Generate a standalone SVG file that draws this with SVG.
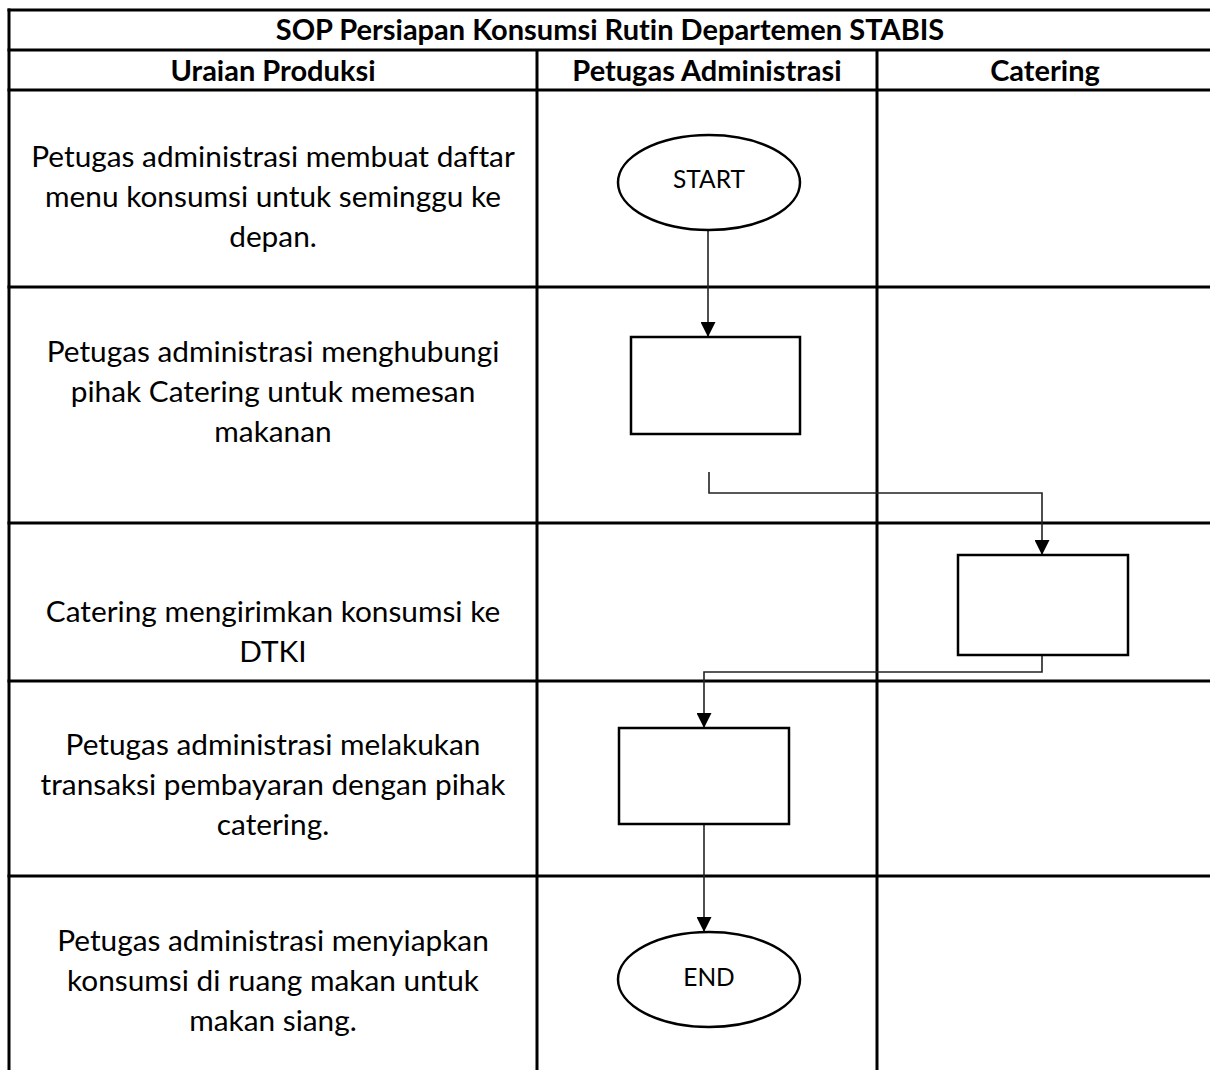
<svg xmlns="http://www.w3.org/2000/svg" width="1210" height="1070" viewBox="0 0 1210 1070">
  <defs>
    <style>
      text { font-variant-ligatures: none; font-feature-settings: "liga" 0, "clig" 0; }
      .grid { stroke: #000; stroke-width: 3; fill: none; }
      .title { font-family: Lato, "Liberation Sans", sans-serif; font-weight: bold; font-size: 29px; fill: #000; text-anchor: middle; }
      .desc { font-family: Lato, "Liberation Sans", sans-serif; font-size: 29.8px; fill: #000; text-anchor: middle; }
      .term { font-family: Lato, "Liberation Sans", sans-serif; font-size: 24.5px; fill: #000; text-anchor: middle; }
      .shape { fill: #fff; stroke: #000; stroke-width: 2.5; }
      .flow { fill: none; stroke: #222; stroke-width: 1.6; }
    </style>
    <marker id="arrow" markerUnits="userSpaceOnUse" viewBox="0 0 15 15" markerWidth="15" markerHeight="15" refX="15" refY="7.5" orient="auto">
      <path d="M0,0 L15,7.5 L0,15 z" fill="#000"/>
    </marker>
  </defs>

  <rect width="1210" height="1070" fill="#fff"/>

  <!-- table grid -->
  <g id="table" class="grid">
    <line x1="7.5" y1="10" x2="1212" y2="10"/>
    <line x1="7.5" y1="50" x2="1212" y2="50"/>
    <line x1="7.5" y1="90" x2="1212" y2="90"/>
    <line x1="7.5" y1="287" x2="1212" y2="287"/>
    <line x1="7.5" y1="523" x2="1212" y2="523"/>
    <line x1="7.5" y1="681" x2="1212" y2="681"/>
    <line x1="7.5" y1="876" x2="1212" y2="876"/>
    <line x1="9" y1="8.5" x2="9" y2="1072"/>
    <line x1="537" y1="50" x2="537" y2="1072"/>
    <line x1="877" y1="50" x2="877" y2="1072"/>
  </g>

  <!-- headings -->
  <g id="headings">
    <text class="title" x="610" y="40">SOP Persiapan Konsumsi Rutin Departemen STABIS</text>
    <text class="title" x="273" y="81">Uraian Produksi</text>
    <text class="title" x="707" y="81">Petugas Administrasi</text>
    <text class="title" x="1045" y="81">Catering</text>
  </g>

  <!-- step descriptions -->
  <g id="descriptions">
    <text class="desc" x="273" y="167">Petugas administrasi membuat daftar</text>
    <text class="desc" x="273" y="207">menu konsumsi untuk seminggu ke</text>
    <text class="desc" x="273" y="247">depan.</text>

    <text class="desc" x="273" y="362">Petugas administrasi menghubungi</text>
    <text class="desc" x="273" y="402">pihak Catering untuk memesan</text>
    <text class="desc" x="273" y="442">makanan</text>

    <text class="desc" x="273" y="622">Catering mengirimkan konsumsi ke</text>
    <text class="desc" x="273" y="662">DTKI</text>

    <text class="desc" x="273" y="755">Petugas administrasi melakukan</text>
    <text class="desc" x="273" y="795">transaksi pembayaran dengan pihak</text>
    <text class="desc" x="273" y="835">catering.</text>

    <text class="desc" x="273" y="951">Petugas administrasi menyiapkan</text>
    <text class="desc" x="273" y="991">konsumsi di ruang makan untuk</text>
    <text class="desc" x="273" y="1031">makan siang.</text>
  </g>

  <!-- connectors -->
  <g id="connectors" class="flow">
    <path d="M708,230 V337" marker-end="url(#arrow)"/>
    <path d="M709,472 V493 H1042 V555" marker-end="url(#arrow)"/>
    <path d="M1042,655 V672 H704 V728" marker-end="url(#arrow)"/>
    <path d="M704,824 V932" marker-end="url(#arrow)"/>
  </g>

  <!-- flow nodes -->
  <g id="start">
    <ellipse class="shape" cx="709" cy="182.5" rx="91" ry="47.5"/>
    <text class="term" x="709" y="188">START</text>
  </g>
  <g id="order">
    <rect class="shape" x="631" y="337" width="169" height="97"/>
  </g>
  <g id="delivery">
    <rect class="shape" x="958" y="555" width="170" height="100"/>
  </g>
  <g id="payment">
    <rect class="shape" x="619" y="728" width="170" height="96"/>
  </g>
  <g id="end">
    <ellipse class="shape" cx="709" cy="979.5" rx="91" ry="47.5"/>
    <text class="term" x="709" y="986">END</text>
  </g>
</svg>
